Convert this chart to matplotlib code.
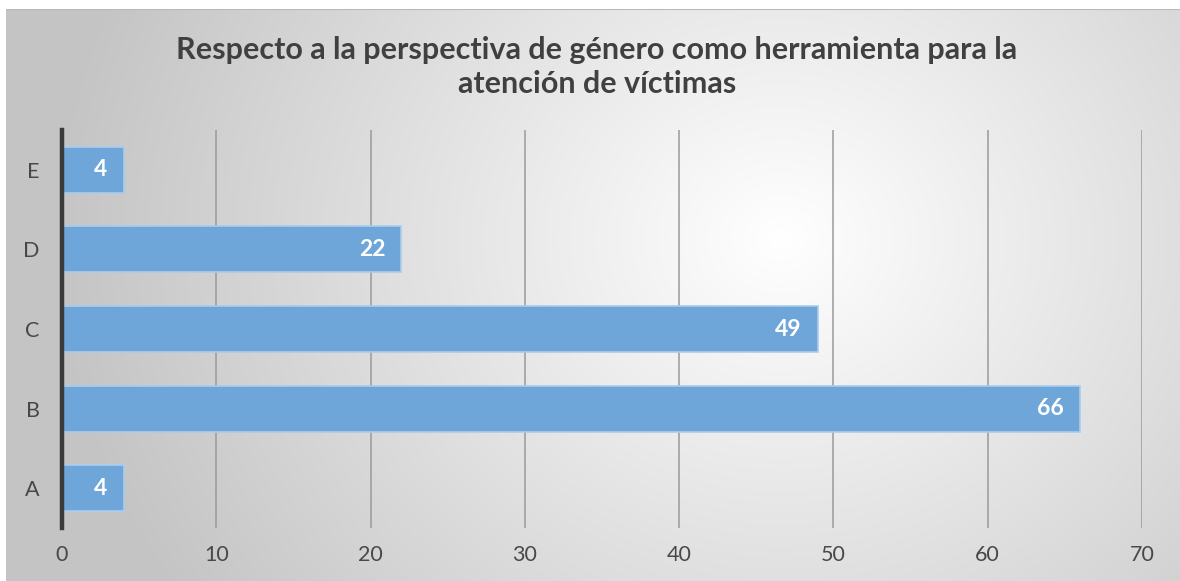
"""Horizontal bar chart: perspectiva de género como herramienta."""

import matplotlib

matplotlib.use("Agg")
import matplotlib.pyplot as plt
import numpy as np

categories = ["A", "B", "C", "D", "E"]
values = [4, 66, 49, 22, 4]
x_ticks = [0, 10, 20, 30, 40, 50, 60, 70]
title = "Respecto a la perspectiva de género como herramienta para la\natención de víctimas"

W, H = 1180, 581
fig = plt.figure(figsize=(W / 100, H / 100), dpi=100)
fig.patch.set_facecolor("white")

# radial gradient background for the chart area
bg = fig.add_axes([6 / W, 0, 1 - 6 / W, 1 - 9 / H])
bg.set_axis_off()
yy, xx = np.mgrid[0:300, 0:600]
cx, cy = 0.66 * 600, 0.40 * 300
r = np.sqrt(((xx - cx) / 600) ** 2 + ((yy - cy) / 300 * 0.55) ** 2)
r = np.clip(r / 0.62, 0, 1)
shade = 1.0 - 0.23 * r
img = np.dstack([shade, shade, shade])
bg.imshow(img, aspect="auto", extent=[0, 1, 0, 1], origin="upper")
bg.set_xlim(0, 1)
bg.set_ylim(0, 1)
bg.axhline(1, color="#b8b8b8", lw=1.5)

ax = fig.add_axes([62 / W, 1 - 528 / H, 1080 / W, 398 / H])
ax.patch.set_alpha(0)

y = np.arange(len(categories))
bars = ax.barh(y, values, height=0.58, color="#6fa6d9", edgecolor="#a9cdee",
               linewidth=1.2, zorder=3)
for b, v in zip(bars, values):
    ax.text(b.get_width() - 1.05, b.get_y() + b.get_height() / 2, str(v),
            ha="right", va="center", color="white", fontsize=16.5,
            fontweight="bold", family="Lato", zorder=4)

ax.set_xlim(0, 70)
ax.set_ylim(-0.5, 4.5)
ax.set_xticks(x_ticks)
ax.set_yticks(y)
ax.set_yticklabels(categories)
ax.grid(axis="x", color="#9a9a9a", lw=1.1, zorder=1)
ax.tick_params(length=0, labelsize=15.5, labelcolor="#484848")
ax.tick_params(axis="x", pad=12)
ax.tick_params(axis="y", pad=16)
for lab in ax.get_xticklabels() + ax.get_yticklabels():
    lab.set_family("Lato")
    lab.set_fontweight("normal")
for s in ["top", "right", "bottom"]:
    ax.spines[s].set_visible(False)
ax.spines["left"].set_color("#3a3a3a")
ax.spines["left"].set_linewidth(3.2)
ax.spines["left"].set_zorder(5)

fig.text(597 / W, 1 - 67 / H, title, ha="center", va="center", fontsize=22,
         fontweight="bold", color="#404040", family="Lato", linespacing=1.22)

fig.savefig("out.png", dpi=100)
